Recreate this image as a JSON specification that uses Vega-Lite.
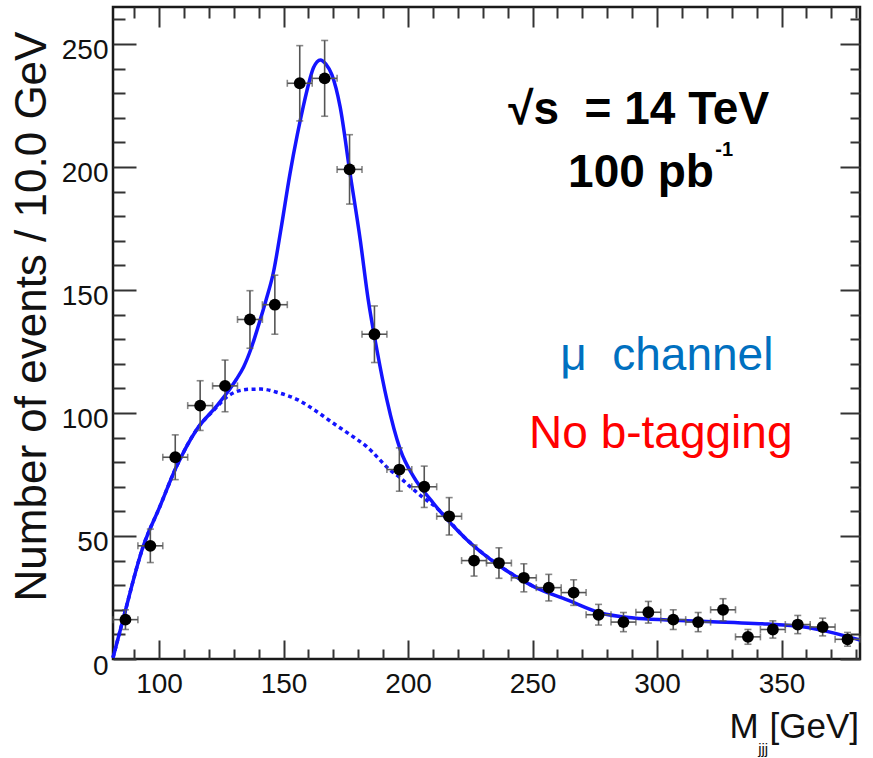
{
  "$schema": "https://vega.github.io/schema/vega-lite/v6.json",
  "width": 747,
  "height": 652,
  "autosize": "none",
  "padding": {"left": 113, "top": 7, "right": 13, "bottom": 99},
  "background": "white",
  "config": {
    "view": {"stroke": "#1a1a1a", "strokeWidth": 2.5},
    "axis": {"grid": false, "domain": false}
  },
  "datasets": {
    "pts": [
      {"m": 86.5, "n": 16, "lo": 12, "hi": 20, "xlo": 81.5, "xhi": 91.5},
      {"m": 96.5, "n": 46, "lo": 39.2, "hi": 52.8, "xlo": 91.5, "xhi": 101.5},
      {"m": 106.5, "n": 82, "lo": 72.9, "hi": 91.1, "xlo": 101.5, "xhi": 111.5},
      {"m": 116.5, "n": 103, "lo": 92.9, "hi": 113.1, "xlo": 111.5, "xhi": 121.5},
      {"m": 126.5, "n": 111, "lo": 100.5, "hi": 121.5, "xlo": 121.5, "xhi": 131.5},
      {"m": 136.5, "n": 138, "lo": 126.3, "hi": 149.7, "xlo": 131.5, "xhi": 141.5},
      {"m": 146.5, "n": 144, "lo": 132, "hi": 156, "xlo": 141.5, "xhi": 151.5},
      {"m": 156.5, "n": 234, "lo": 218.7, "hi": 249.3, "xlo": 151.5, "xhi": 161.5},
      {"m": 166.5, "n": 236, "lo": 220.6, "hi": 251.4, "xlo": 161.5, "xhi": 171.5},
      {"m": 176.5, "n": 199, "lo": 184.9, "hi": 213.1, "xlo": 171.5, "xhi": 181.5},
      {"m": 186.5, "n": 132, "lo": 120.5, "hi": 143.5, "xlo": 181.5, "xhi": 191.5},
      {"m": 196.5, "n": 77, "lo": 68.2, "hi": 85.8, "xlo": 191.5, "xhi": 201.5},
      {"m": 206.5, "n": 70, "lo": 61.6, "hi": 78.4, "xlo": 201.5, "xhi": 211.5},
      {"m": 216.5, "n": 58, "lo": 50.4, "hi": 65.6, "xlo": 211.5, "xhi": 221.5},
      {"m": 226.5, "n": 40, "lo": 33.7, "hi": 46.3, "xlo": 221.5, "xhi": 231.5},
      {"m": 236.5, "n": 39, "lo": 32.8, "hi": 45.2, "xlo": 231.5, "xhi": 241.5},
      {"m": 246.5, "n": 33, "lo": 27.3, "hi": 38.7, "xlo": 241.5, "xhi": 251.5},
      {"m": 256.5, "n": 29, "lo": 23.6, "hi": 34.4, "xlo": 251.5, "xhi": 261.5},
      {"m": 266.5, "n": 27, "lo": 21.8, "hi": 32.2, "xlo": 261.5, "xhi": 271.5},
      {"m": 276.5, "n": 18, "lo": 13.8, "hi": 22.2, "xlo": 271.5, "xhi": 281.5},
      {"m": 286.5, "n": 15, "lo": 11.1, "hi": 18.9, "xlo": 281.5, "xhi": 291.5},
      {"m": 296.5, "n": 19, "lo": 14.6, "hi": 23.4, "xlo": 291.5, "xhi": 301.5},
      {"m": 306.5, "n": 16, "lo": 12, "hi": 20, "xlo": 301.5, "xhi": 311.5},
      {"m": 316.5, "n": 15, "lo": 11.1, "hi": 18.9, "xlo": 311.5, "xhi": 321.5},
      {"m": 326.5, "n": 20, "lo": 15.5, "hi": 24.5, "xlo": 321.5, "xhi": 331.5},
      {"m": 336.5, "n": 9, "lo": 6, "hi": 12, "xlo": 331.5, "xhi": 341.5},
      {"m": 346.5, "n": 12, "lo": 8.5, "hi": 15.5, "xlo": 341.5, "xhi": 351.5},
      {"m": 356.5, "n": 14, "lo": 10.3, "hi": 17.7, "xlo": 351.5, "xhi": 361.5},
      {"m": 366.5, "n": 13, "lo": 9.4, "hi": 16.6, "xlo": 361.5, "xhi": 371.5},
      {"m": 376.5, "n": 8, "lo": 5.2, "hi": 10.8, "xlo": 371.5, "xhi": 381.5}
    ],
    "fit": [
      {"m": 81.5, "n": 0.5}, {"m": 85.5, "n": 15.9}, {"m": 93.6, "n": 45.7}, {"m": 100.3, "n": 61.9},
      {"m": 107, "n": 78.2}, {"m": 115, "n": 93.1}, {"m": 123.1, "n": 102.8}, {"m": 127, "n": 107.8},
      {"m": 131, "n": 113.6}, {"m": 134, "n": 118.8}, {"m": 137, "n": 126.3}, {"m": 140, "n": 135.8},
      {"m": 143, "n": 146}, {"m": 146, "n": 157.5}, {"m": 149, "n": 175}, {"m": 152.6, "n": 197.4},
      {"m": 155.5, "n": 213}, {"m": 157.9, "n": 224.5}, {"m": 160, "n": 233.5}, {"m": 162, "n": 240.3},
      {"m": 164.8, "n": 243.5}, {"m": 167, "n": 241.8}, {"m": 169.4, "n": 237.5}, {"m": 172.7, "n": 224.5},
      {"m": 176.7, "n": 197.4}, {"m": 180.8, "n": 170.3}, {"m": 184, "n": 146}, {"m": 187.5, "n": 125.6},
      {"m": 191.5, "n": 105.3}, {"m": 196.9, "n": 85}, {"m": 202.2, "n": 74.1}, {"m": 210.2, "n": 63.3},
      {"m": 223.7, "n": 48.4}, {"m": 237.1, "n": 37.6}, {"m": 250.5, "n": 29.4}, {"m": 263.9, "n": 24},
      {"m": 277.3, "n": 18.7}, {"m": 290.7, "n": 16.7}, {"m": 304.1, "n": 15.9}, {"m": 317.6, "n": 15.3},
      {"m": 331, "n": 14.8}, {"m": 344.4, "n": 14.2}, {"m": 357.8, "n": 13.2}, {"m": 371.2, "n": 10.5},
      {"m": 381.5, "n": 7.7}
    ],
    "bg": [
      {"m": 81.5, "n": 0.5}, {"m": 85.5, "n": 15.9}, {"m": 93.6, "n": 45.7}, {"m": 100.3, "n": 61.9},
      {"m": 107, "n": 78.2}, {"m": 115, "n": 93.1}, {"m": 123.1, "n": 102.3}, {"m": 127.1, "n": 106.4},
      {"m": 131.1, "n": 108.7}, {"m": 136, "n": 109.6}, {"m": 141, "n": 109.7}, {"m": 148, "n": 108.2},
      {"m": 155.8, "n": 105.3}, {"m": 163, "n": 100.8}, {"m": 170, "n": 95.8}, {"m": 176.7, "n": 91.2},
      {"m": 183.4, "n": 86.3}, {"m": 192.8, "n": 76.8}, {"m": 196.9, "n": 73.6}, {"m": 200.9, "n": 70},
      {"m": 206.2, "n": 65.5}, {"m": 210.2, "n": 62.5}, {"m": 223.7, "n": 48.4}, {"m": 237.1, "n": 37.6},
      {"m": 250.5, "n": 29.4}
    ]
  },
  "resolve": {"axis": {"x": "independent", "y": "independent"}},
  "layer": [
    {
      "data": {"name": "bg"},
      "mark": {"type": "line", "color": "#1414ff", "strokeWidth": 3.5, "strokeDash": [4, 3.5], "interpolate": "monotone"},
      "encoding": {
        "x": {"field": "m", "type": "quantitative", "scale": {"domain": [81.5, 381.5], "nice": false, "zero": false}, "axis": null},
        "y": {"field": "n", "type": "quantitative", "scale": {"domain": [0, 265], "nice": false, "zero": false}, "axis": null}
      }
    },
    {
      "data": {"name": "fit"},
      "mark": {"type": "line", "color": "#1414ff", "strokeWidth": 3.5, "interpolate": "monotone"},
      "encoding": {
        "x": {"field": "m", "type": "quantitative",
          "axis": {"orient": "top", "values": [90,100,110,120,130,140,150,160,170,180,190,200,210,220,230,240,250,260,270,280,290,300,310,320,330,340,350,360,370,380],
            "labels": false, "title": null, "tickColor": "#333", "tickWidth": 2,
            "tickSize": {"condition": {"test": "datum.value % 50 === 0", "value": -20}, "value": -11}}},
        "y": {"field": "n", "type": "quantitative",
          "axis": {"orient": "right", "values": [0,10,20,30,40,50,60,70,80,90,100,110,120,130,140,150,160,170,180,190,200,210,220,230,240,250,260],
            "labels": false, "title": null, "tickColor": "#333", "tickWidth": 2,
            "tickSize": {"condition": {"test": "datum.value % 50 === 0", "value": -20}, "value": -10}}}
      }
    },
    {
      "data": {"name": "pts"},
      "mark": {"type": "errorbar", "color": "#555", "thickness": 1.6, "ticks": {"size": 7, "thickness": 1.6, "color": "#555"}},
      "encoding": {
        "x": {"field": "m", "type": "quantitative", "axis": null},
        "y": {"field": "lo", "type": "quantitative", "axis": null},
        "y2": {"field": "hi"}
      }
    },
    {
      "data": {"name": "pts"},
      "mark": {"type": "errorbar", "color": "#555", "thickness": 1.6, "ticks": {"size": 7, "thickness": 1.6, "color": "#555"}},
      "encoding": {
        "y": {"field": "n", "type": "quantitative", "axis": null},
        "x": {"field": "xlo", "type": "quantitative", "axis": null},
        "x2": {"field": "xhi"}
      }
    },
    {
      "data": {"name": "pts"},
      "mark": {"type": "point", "filled": true, "color": "#000", "opacity": 1, "size": 140},
      "encoding": {
        "x": {"field": "m", "type": "quantitative",
          "axis": {"orient": "bottom", "values": [90,100,110,120,130,140,150,160,170,180,190,200,210,220,230,240,250,260,270,280,290,300,310,320,330,340,350,360,370,380],
            "labelExpr": "datum.value % 50 === 0 ? datum.label : ''", "labelOverlap": false, "labelFlush": false,
            "labelFont": "Liberation Sans", "labelFontSize": 28, "labelColor": "#111", "labelBaseline": "top",
            "labelPadding": 30, "title": null, "tickColor": "#333", "tickWidth": 2,
            "tickSize": {"condition": {"test": "datum.value % 50 === 0", "value": -19}, "value": -10}}},
        "y": {"field": "n", "type": "quantitative",
          "axis": {"orient": "left", "values": [0,10,20,30,40,50,60,70,80,90,100,110,120,130,140,150,160,170,180,190,200,210,220,230,240,250,260],
            "labelExpr": "datum.value % 50 === 0 ? datum.label : ''", "labelOverlap": false, "labelFlush": false,
            "labelFont": "Liberation Sans", "labelFontSize": 28, "labelColor": "#111",
            "labelPadding": 28, "labelOffset": 7, "tickColor": "#333", "tickWidth": 2,
            "tickSize": {"condition": {"test": "datum.value % 50 === 0", "value": -23}, "value": -12},
            "title": "Number of events / 10.0 GeV", "titleFont": "Liberation Sans", "titleFontSize": 44,
            "titleFontWeight": "normal", "titleColor": "#111", "titleAngle": -90, "titleX": -68, "titleY": 309,
            "titleAlign": "center", "titleBaseline": "alphabetic"}}
      }
    },
    {
      "data": {"values": [{}]},
      "mark": {"type": "text", "text": "√s\u00a0 = 14 TeV", "font": "Liberation Sans", "fontSize": 46, "fontWeight": "bold", "color": "#000", "align": "center", "baseline": "alphabetic"},
      "encoding": {"x": {"datum": 292.6, "type": "quantitative", "axis": null}, "y": {"datum": 217.5, "type": "quantitative", "axis": null}}
    },
    {
      "data": {"values": [{}]},
      "mark": {"type": "text", "text": "100 pb", "font": "Liberation Sans", "fontSize": 46, "fontWeight": "bold", "color": "#000", "align": "right", "baseline": "alphabetic"},
      "encoding": {"x": {"datum": 322.8, "type": "quantitative", "axis": null}, "y": {"datum": 191.9, "type": "quantitative", "axis": null}}
    },
    {
      "data": {"values": [{}]},
      "mark": {"type": "text", "text": "-1", "font": "Liberation Sans", "fontSize": 20, "fontWeight": "bold", "color": "#000", "align": "left", "baseline": "alphabetic"},
      "encoding": {"x": {"datum": 323.4, "type": "quantitative", "axis": null}, "y": {"datum": 204.3, "type": "quantitative", "axis": null}}
    },
    {
      "data": {"values": [{}]},
      "mark": {"type": "text", "text": "μ\u00a0\u00a0channel", "font": "Liberation Sans", "fontSize": 46, "color": "#0070C0", "align": "center", "baseline": "alphabetic"},
      "encoding": {"x": {"datum": 303.9, "type": "quantitative", "axis": null}, "y": {"datum": 117.5, "type": "quantitative", "axis": null}}
    },
    {
      "data": {"values": [{}]},
      "mark": {"type": "text", "text": "No b-tagging", "font": "Liberation Sans", "fontSize": 46, "color": "#FF0000", "align": "center", "baseline": "alphabetic"},
      "encoding": {"x": {"datum": 301.5, "type": "quantitative", "axis": null}, "y": {"datum": 85.8, "type": "quantitative", "axis": null}}
    },
    {
      "data": {"values": [{}]},
      "mark": {"type": "text", "text": "[GeV]", "font": "Liberation Sans", "fontSize": 35, "color": "#111", "align": "right", "baseline": "alphabetic"},
      "encoding": {"x": {"datum": 381.1, "type": "quantitative", "axis": null}, "y": {"datum": -32.1, "type": "quantitative", "axis": null}}
    },
    {
      "data": {"values": [{}]},
      "mark": {"type": "text", "text": "M", "font": "Liberation Sans", "fontSize": 35, "color": "#111", "align": "right", "baseline": "alphabetic"},
      "encoding": {"x": {"datum": 340.8, "type": "quantitative", "axis": null}, "y": {"datum": -32.1, "type": "quantitative", "axis": null}}
    },
    {
      "data": {"values": [{}]},
      "mark": {"type": "text", "text": "jjj", "font": "Liberation Sans", "fontSize": 15, "color": "#111", "align": "left", "baseline": "alphabetic"},
      "encoding": {"x": {"datum": 340.6, "type": "quantitative", "axis": null}, "y": {"datum": -38.6, "type": "quantitative", "axis": null}}
    }
  ]
}
